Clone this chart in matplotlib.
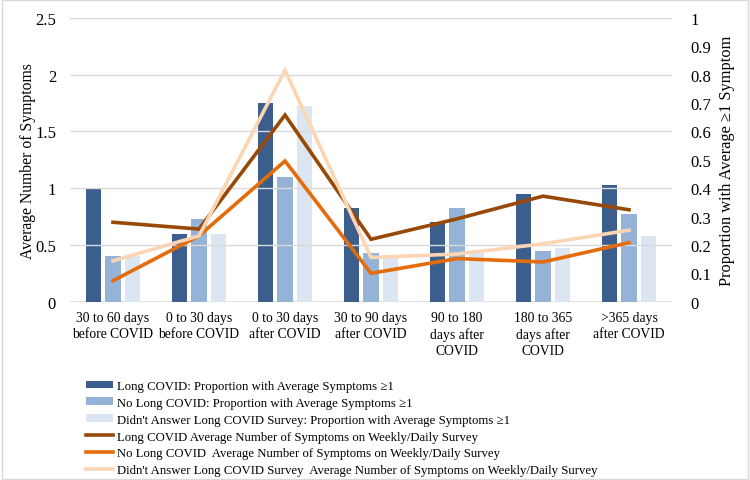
import numpy as np
import matplotlib
matplotlib.use("Agg")
import matplotlib.pyplot as plt
from matplotlib.patches import Rectangle

plt.rcParams['font.family'] = ['Liberation Serif', 'DejaVu Serif']
plt.rcParams['font.size'] = 9.5

categories = ["30 to 60 days\nbefore COVID", "0 to 30 days\nbefore COVID", "0 to 30 days\nafter COVID",
              "30 to 90 days\nafter COVID", "90 to 180\ndays after\nCOVID", "180 to 365\ndays after\nCOVID",
              ">365 days\nafter COVID"]

# proportion with average symptoms >= 1 (right axis)
prop_long = [0.40, 0.24, 0.70, 0.33, 0.28, 0.38, 0.41]
prop_no_long = [0.16, 0.29, 0.44, 0.17, 0.33, 0.18, 0.31]
prop_no_answer = [0.16, 0.24, 0.69, 0.16, 0.17, 0.19, 0.23]

# average number of symptoms (left axis)
avg_long = [0.70, 0.64, 1.645, 0.55, 0.73, 0.93, 0.81]
avg_no_long = [0.185, 0.58, 1.24, 0.25, 0.38, 0.35, 0.52]
avg_no_answer = [0.36, 0.58, 2.04, 0.39, 0.42, 0.51, 0.63]

bar_labels = ["Long COVID: Proportion with Average Symptoms \u22651",
              "No Long COVID: Proportion with Average Symptoms \u22651",
              "Didn't Answer Long COVID Survey: Proportion with Average Symptoms \u22651"]
line_labels = ["Long COVID Average Number of Symptoms on Weekly/Daily Survey",
               "No Long COVID  Average Number of Symptoms on Weekly/Daily Survey",
               "Didn't Answer Long COVID Survey  Average Number of Symptoms on Weekly/Daily Survey"]

bar_colors = ["#3b5e8c", "#95b3d7", "#dce6f2"]
line_colors = ["#984807", "#e46c0a", "#fcd5b5"]

fig = plt.figure(figsize=(7.5, 4.81), dpi=100)
ax = fig.add_axes([70 / 750, 1 - 302.7 / 481, 602 / 750, 283.7 / 481])
ax2 = ax.twinx()

x = np.arange(len(categories))
w = 0.175
handles = []
for i, (vals, col, lab) in enumerate(zip([prop_long, prop_no_long, prop_no_answer], bar_colors, bar_labels)):
    h = ax.bar(x + (i - 1) * 0.222, vals, w, color=col, label=lab, zorder=2)
    handles.append(h)

for vals, col, lab in zip([avg_long, avg_no_long, avg_no_answer], line_colors, line_labels):
    h, = ax2.plot(x, vals, color=col, lw=2.6, label=lab, solid_joinstyle='miter')
    handles.append(h)

ax.set_xlim(-0.5, len(categories) - 0.5)
ax.set_ylim(0, 1)
ax2.set_ylim(0, 2.5)
ax.set_yticks(np.arange(0, 1.01, 0.1))
ax.set_yticklabels(["0", "0.1", "0.2", "0.3", "0.4", "0.5", "0.6", "0.7", "0.8", "0.9", "1"])
ax2.set_yticks(np.arange(0, 2.51, 0.5))
ax2.set_yticklabels(["0", "0.5", "1", "1.5", "2", "2.5"])

ax.yaxis.tick_right()
ax.yaxis.set_label_position("right")
ax2.yaxis.tick_left()
ax2.yaxis.set_label_position("left")
ax.set_ylabel("Proportion with Average \u22651 Symptom", fontsize=11.8)
ax2.set_ylabel("Average Number of Symptoms", fontsize=11.3)
ax2.yaxis.set_label_coords(-0.056, 0.5)
ax.yaxis.set_label_coords(1.078, 0.5)

ax.set_xticks(x)
ax.set_xticklabels(categories, fontsize=9.8, linespacing=1.3)

# gridlines follow the left axis
for yv in np.arange(0.5, 2.51, 0.5):
    ax2.axhline(yv, color="#d9d9d9", lw=1, zorder=0)
ax.axhline(0, color="#d9d9d9", lw=1.2, zorder=1)

for a in (ax, ax2):
    for s in a.spines.values():
        s.set_visible(False)
    a.tick_params(length=0, labelsize=12)
ax.tick_params(axis='y', pad=13)
ax2.tick_params(axis='y', pad=10)
ax.tick_params(axis='x', pad=7, labelsize=9.8)

fig.legend(handles=handles, loc="upper left", bbox_to_anchor=(86 / 750, 1 - 381 / 481),
           frameon=False, fontsize=9.2, handlelength=2.15, handleheight=0.55,
           handletextpad=0.25, labelspacing=0.38, borderpad=0, borderaxespad=0)

fig.patches.append(Rectangle((0.002, 0.003), 0.995, 0.994, transform=fig.transFigure,
                             fill=False, edgecolor="#d9d9d9", lw=1))

fig.savefig("out.png", dpi=100)
